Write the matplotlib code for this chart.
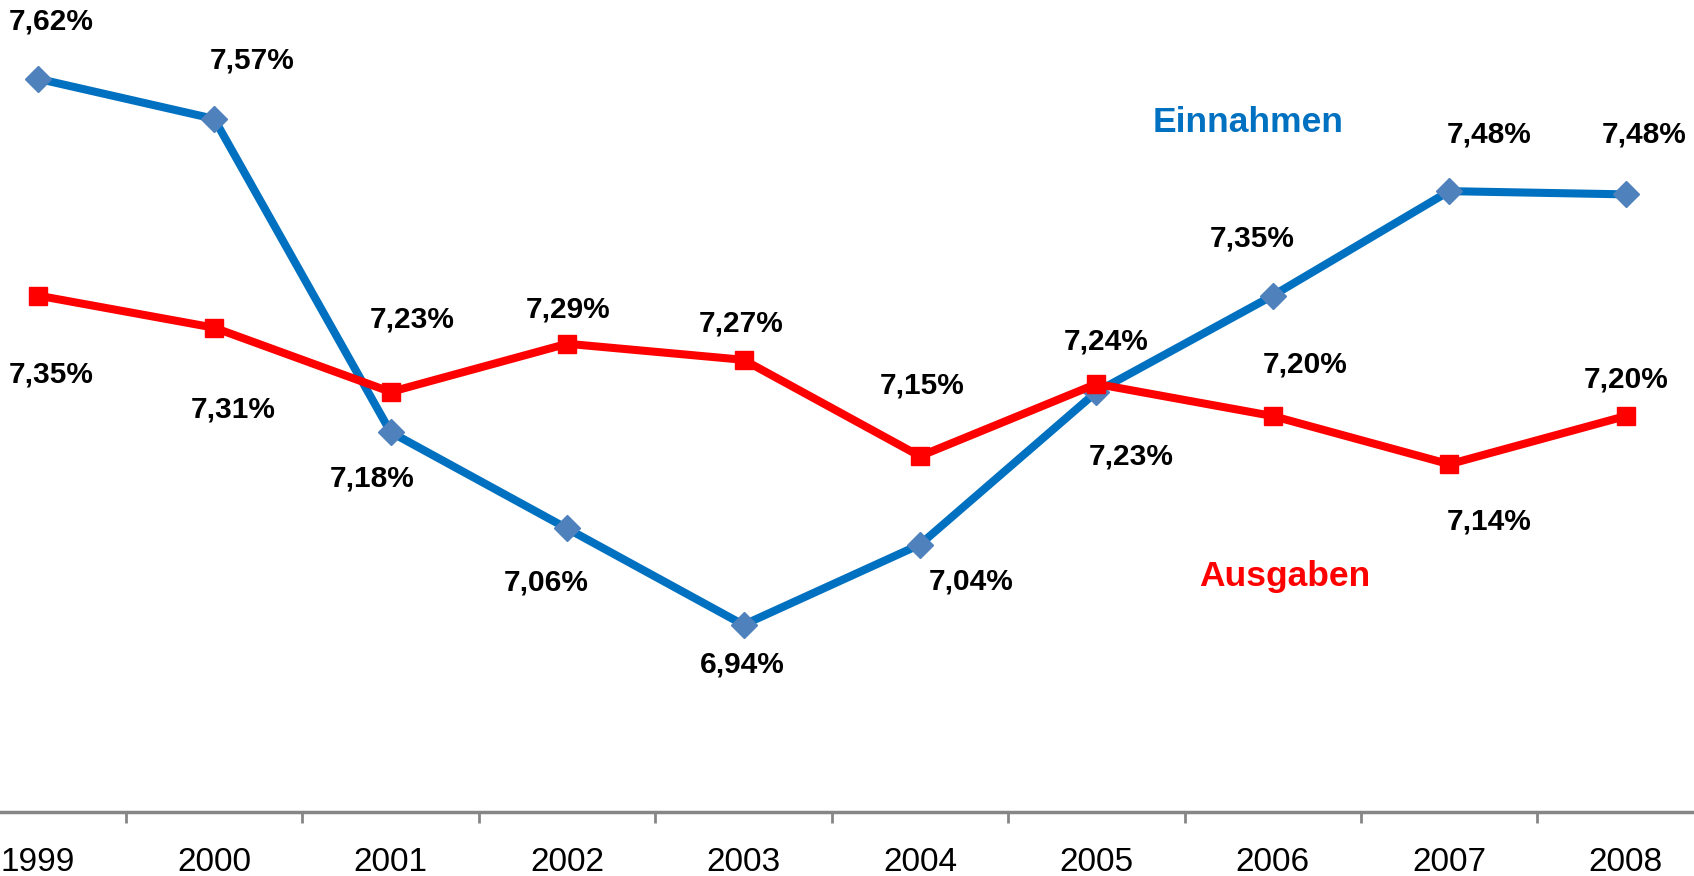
import matplotlib
matplotlib.use("Agg")
import matplotlib.pyplot as plt
import numpy as np

plt.rcParams['font.family'] = ['Liberation Sans', 'DejaVu Sans']

years = ["1999", "2000", "2001", "2002", "2003", "2004", "2005", "2006", "2007", "2008"]
einnahmen = [7.62, 7.57, 7.18, 7.06, 6.94, 7.04, 7.23, 7.35, 7.48, 7.476]
ausgaben = [7.35, 7.31, 7.23, 7.29, 7.27, 7.15, 7.24, 7.20, 7.14, 7.20]

# label offsets (pixels, right/up)
ein_off = [(12, 53), (35, 54), (-17, -43), (-19, -50), (-1, -37), (47, -34), (32, -60), (-19, 53), (37, 52), (17, 55)]
aus_off = [(12, -73), (18, -76), (20, 67), (1, 32), (-2, 34), (2, 65), (9, 39), (30, 48), (37, -53), (0, 34)]

BLUE = "#0070C0"
BLUE_M = "#4F81BD"
RED = "#FF0000"
GREY = "#868686"

fig = plt.figure(figsize=(16.94, 8.76), dpi=100)
ax = fig.add_axes([0, 64 / 876, 1, 812 / 876])
x = np.arange(len(years))

ax.plot(x, einnahmen, color=BLUE, lw=5.8, marker="D", markersize=13,
        markerfacecolor=BLUE_M, markeredgecolor=BLUE_M, zorder=2, clip_on=False)
ax.plot(x, ausgaben, color=RED, lw=5.8, marker="s", markersize=12.5,
        markerfacecolor=RED, markeredgecolor=RED, zorder=3, clip_on=False)

s = 1.0804
for xi, v, (dx, dy) in zip(x, einnahmen, ein_off):
    ax.annotate(f"{v:.2f}%".replace(".", ","), (xi, v), xytext=(dx * s, dy * s),
                textcoords="offset pixels", ha="center", va="center",
                fontsize=21.5, fontweight="bold", color="black", annotation_clip=False)
for xi, v, (dx, dy) in zip(x, ausgaben, aus_off):
    ax.annotate(f"{v:.2f}%".replace(".", ","), (xi, v), xytext=(dx * s, dy * s),
                textcoords="offset pixels", ha="center", va="center",
                fontsize=21.5, fontweight="bold", color="black", annotation_clip=False)

ax.text(6.86, 7.566, "Einnahmen", color=BLUE, fontsize=25.5, fontweight="bold", ha="center", va="center")
ax.text(7.07, 7.00, "Ausgaben", color=RED, fontsize=25.5, fontweight="bold", ha="center", va="center")

ax.set_xlim(-0.214, 9.387)
ax.set_ylim(6.707, 7.718)

for side in ["top", "right", "left"]:
    ax.spines[side].set_visible(False)
ax.spines["bottom"].set_color(GREY)
ax.spines["bottom"].set_linewidth(2.5)
ax.set_yticks([])
ax.set_xticks(x)
ax.set_xticklabels(years, fontsize=24)
ax.tick_params(axis="x", which="major", length=0, pad=25)
ax.set_xticks(x[:-1] + 0.5, minor=True)
ax.tick_params(axis="x", which="minor", length=8, width=2, color=GREY, direction="out")

fig.savefig("out.png", dpi=100)
